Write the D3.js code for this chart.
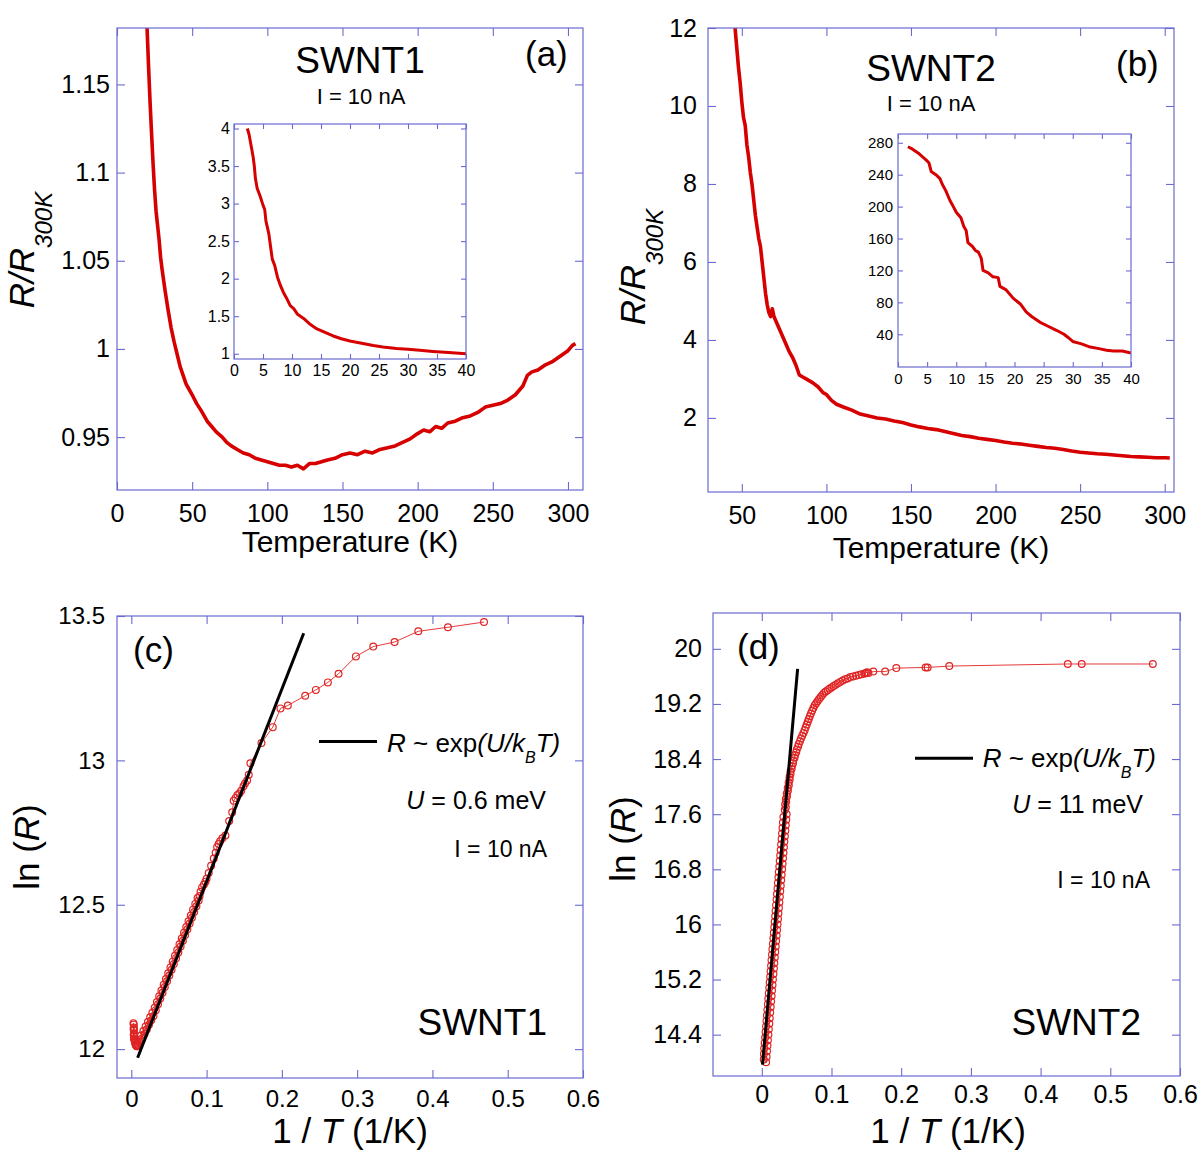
<!DOCTYPE html>
<html><head><meta charset="utf-8">
<script src="https://cdn.jsdelivr.net/npm/d3@7"></script>
<style>
body{margin:0;background:#fff;}
svg text{font-family:"Liberation Sans",Arial,Helvetica,sans-serif;fill:#000;}
</style></head><body>
<svg id="fig" width="1200" height="1160"></svg>
<script>
// ---------- DATA ----------
// (a) SWNT1: temperature (K) vs R/R300K
const aTemp = [20,21,22,23,24,25,26,27,28,29,30,32,34,36,38,40,42,44,46,48,50,53,56,58,60,63,66,70,73,76,80,84,88,92,96,100,104,108,112,116,120,124,128,132,136,140,145,150,155,160,165,170,175,180,185,190,195,200,204,208,212,216,220,225,230,235,240,245,250,255,260,265,270,273,276,280,285,290,295,300,303,305];
const aRatio = [1.182,1.16,1.14,1.122,1.105,1.09,1.078,1.07,1.062,1.052,1.045,1.033,1.022,1.012,1.004,0.997,0.99,0.985,0.98,0.977,0.974,0.969,0.965,0.962,0.959,0.956,0.953,0.95,0.947,0.945,0.943,0.941,0.94,0.938,0.937,0.936,0.935,0.934,0.934,0.933,0.934,0.932,0.935,0.935,0.936,0.937,0.938,0.940,0.941,0.940,0.942,0.941,0.943,0.944,0.945,0.947,0.949,0.952,0.954,0.953,0.956,0.955,0.958,0.959,0.961,0.962,0.964,0.967,0.968,0.969,0.971,0.974,0.979,0.985,0.987,0.988,0.991,0.993,0.996,0.999,1.002,1.003];
// (a) inset
const aInTemp = [2.3,2.6,3.0,3.3,3.5,3.7,4.0,4.5,5.0,5.3,5.5,6.0,6.6,7.0,7.5,8.0,8.5,9.0,9.7,10.3,10.9,12,13,14.3,15.5,17,18.5,20,22,24,25.7,28,30,32,34.3,37,40];
const aInRatio = [4.0,3.92,3.75,3.62,3.5,3.33,3.2,3.1,2.98,2.92,2.77,2.6,2.26,2.18,2.02,1.91,1.82,1.75,1.64,1.6,1.53,1.47,1.40,1.33,1.29,1.24,1.2,1.17,1.14,1.11,1.09,1.07,1.06,1.045,1.03,1.015,1.0];
// (b) SWNT2
const bTemp = [46,47,48,49,50,51,52,53,54,55,56,57,58,59,60,61,62,63,64,65,66,67,68,69,70,72,74,76,78,80,82,84,86,88,90,92,95,98,100,103,106,110,115,120,125,130,135,140,145,150,155,160,165,170,175,180,185,190,195,200,205,210,215,220,225,230,235,240,245,250,255,260,265,270,275,280,285,290,295,300,303];
const bRatio = [12.0,11.5,11.0,10.6,10.1,9.7,9.5,9.0,8.7,8.3,8.0,7.6,7.2,6.9,6.6,6.4,6.0,5.6,5.2,4.9,4.7,4.6,4.8,4.6,4.5,4.3,4.1,3.9,3.7,3.55,3.35,3.1,3.05,3.0,2.95,2.9,2.8,2.65,2.6,2.45,2.35,2.28,2.2,2.1,2.05,2.0,1.97,1.92,1.88,1.82,1.77,1.73,1.7,1.65,1.6,1.55,1.52,1.48,1.45,1.42,1.38,1.35,1.33,1.3,1.27,1.24,1.22,1.19,1.15,1.12,1.1,1.08,1.07,1.05,1.03,1.01,1.0,0.99,0.98,0.98,0.97];
// (b) inset
const bInTemp = [1.7,2.5,3.5,4.9,5.3,5.7,6.5,7.2,7.6,8.2,8.9,9.5,10,10.8,11.3,11.7,12,12.8,13.3,13.8,14.3,14.6,15.5,16.3,17.2,17.5,18.5,19.8,21,22,23,24.4,25.5,27.2,28.5,29.2,30,31.5,33,34.5,35.8,37,38.5,40];
const bInRatio = [275,272,267,258,255,244,240,235,228,220,208,200,193,186,175,170,155,150,145,143,135,120,117,112,111,100,96,85,78,68,62,55,51,45,40,36,31,28,24,22,20,19,19,16.6];
// (c) SWNT1: [1/T, ln R]
const cPoints = [[0.0028,12.09],[0.0030,12.07],[0.0033,12.085],[0.0032,12.05],[0.0034,12.075],[0.0035,12.065],[0.0036,12.035],[0.0037,12.055],[0.0039,12.045],[0.0041,12.038],[0.0044,12.032],[0.0047,12.027],[0.0051,12.022],[0.0055,12.018],[0.0060,12.014],[0.0066,12.012],[0.0072,12.010],[0.0079,12.010],[0.0087,12.011],[0.0093,12.013],
[0.0100,12.031],[0.0115,12.021],[0.0130,12.047],[0.0145,12.037],[0.0160,12.063],[0.0175,12.052],[0.0190,12.078],[0.0205,12.068],[0.0220,12.094],[0.0235,12.084],[0.0250,12.110],[0.0265,12.100],[0.0280,12.126],[0.0295,12.115],[0.0310,12.143],[0.0325,12.135],[0.0340,12.163],[0.0355,12.155],[0.0370,12.183],[0.0385,12.175],[0.0400,12.203],[0.0415,12.195],[0.0430,12.223],[0.0445,12.215],[0.0460,12.243],[0.0475,12.235],[0.0490,12.263],[0.0505,12.255],[0.0520,12.283],[0.0535,12.275],[0.0550,12.303],[0.0565,12.295],[0.0580,12.323],[0.0595,12.315],[0.0610,12.343],[0.0625,12.335],[0.0640,12.363],[0.0655,12.355],[0.0670,12.383],[0.0685,12.375],[0.0700,12.403],[0.0715,12.395],[0.0730,12.423],[0.0745,12.415],[0.0760,12.443],[0.0775,12.435],[0.0790,12.463],[0.0805,12.455],[0.0820,12.483],[0.0835,12.475],[0.0850,12.503],[0.0865,12.495],[0.0880,12.523],[0.0895,12.515],
[0.0907,12.53],[0.092,12.545],[0.094,12.56],[0.0965,12.57],[0.0985,12.58],[0.100,12.59],[0.1028,12.61],[0.106,12.635],[0.1095,12.66],[0.112,12.68],[0.114,12.70],[0.116,12.71],[0.118,12.72],[0.121,12.73],[0.125,12.74],[0.130,12.79],[0.134,12.82],[0.136,12.86],[0.1385,12.87],[0.141,12.88],[0.1435,12.885],[0.146,12.895],[0.149,12.91],[0.151,12.92],[0.1538,12.93],[0.156,12.95],[0.1582,12.99],[0.1729,13.06],[0.1879,13.115],[0.1981,13.18],[0.2079,13.19],[0.231,13.224],[0.2451,13.244],[0.2611,13.27],[0.2753,13.30],[0.2983,13.36],[0.3214,13.394],[0.3497,13.41],[0.3812,13.447],[0.4206,13.461],[0.4685,13.479]];
const cFit = [[0.0084,11.97],[0.229,13.44]];
// (d) SWNT2: [1/T, ln R]
const dPoints = [[0.0062,14.00],[0.0028,14.04],[0.0069,14.08],[0.0030,14.12],[0.0075,14.16],[0.0034,14.20],[0.0082,14.24],[0.0041,14.28],[0.0088,14.32],[0.0048,14.36],[0.0095,14.40],[0.0054,14.44],[0.0101,14.48],[0.0061,14.52],[0.0108,14.56],[0.0067,14.60],[0.0114,14.64],[0.0074,14.68],[0.0121,14.72],[0.0080,14.76],[0.0128,14.80],[0.0087,14.84],[0.0134,14.88],[0.0093,14.92],[0.0141,14.96],[0.0100,15.00],[0.0147,15.04],[0.0107,15.08],[0.0154,15.12],[0.0113,15.16],[0.0160,15.20],[0.0120,15.24],[0.0167,15.28],[0.0126,15.32],[0.0174,15.36],[0.0133,15.40],[0.0180,15.44],[0.0139,15.48],[0.0187,15.52],[0.0146,15.56],[0.0193,15.60],[0.0152,15.64],[0.0200,15.68],[0.0159,15.72],[0.0206,15.76],[0.0166,15.80],[0.0213,15.84],[0.0172,15.88],[0.0219,15.92],[0.0179,15.96],[0.0226,16.00],[0.0185,16.04],[0.0233,16.08],[0.0192,16.12],[0.0239,16.16],[0.0198,16.20],[0.0246,16.24],[0.0205,16.28],[0.0252,16.32],[0.0212,16.36],[0.0259,16.40],[0.0218,16.44],[0.0265,16.48],[0.0225,16.52],[0.0272,16.56],[0.0231,16.60],[0.0278,16.64],[0.0238,16.68],[0.0285,16.72],[0.0244,16.76],[0.0292,16.80],[0.0251,16.84],[0.0298,16.88],[0.0257,16.92],[0.0305,16.96],[0.0264,17.00],[0.0311,17.04],[0.0271,17.08],[0.0318,17.12],[0.0277,17.16],[0.0324,17.20],[0.0284,17.24],[0.0331,17.28],[0.0290,17.32],[0.0338,17.36],[0.0297,17.40],[0.0344,17.44],[0.0303,17.48],[0.0351,17.52],[0.0310,17.56],[0.0357,17.60],
[0.0330,17.66],[0.0345,17.70],[0.0335,17.74],[0.0350,17.78],[0.0345,17.82],[0.0362,17.86],[0.0358,17.90],[0.0375,17.94],[0.0372,17.98],[0.0388,18.02],[0.0385,18.06],[0.0400,18.10],[0.0398,18.14],[0.0412,18.18],[0.0412,18.22],[0.0428,18.26],[0.0432,18.30],[0.0448,18.34],[0.0452,18.38],[0.0470,18.42],[0.0476,18.46],[0.0494,18.50],[0.0502,18.54],[0.0520,18.58],[0.0530,18.62],[0.0548,18.66],[0.0562,18.70],[0.0580,18.74],[0.0598,18.78],[0.0615,18.82],[0.0630,18.86],[0.0645,18.90],[0.0660,18.94],[0.0675,18.98],[0.0690,19.02],[0.0705,19.06],[0.0722,19.10],[0.0740,19.14],[0.0760,19.18],[0.0780,19.21],[0.0800,19.24],[0.0822,19.27],[0.0845,19.30],[0.0868,19.33],[0.0892,19.36],[0.0918,19.38],[0.0945,19.40],[0.0972,19.42],[0.1000,19.44],[0.1030,19.46],[0.1060,19.48],[0.1092,19.50],[0.1125,19.52],[0.1160,19.54],[0.1195,19.56],[0.1232,19.57],[0.1270,19.59],[0.1310,19.60],[0.1350,19.61],[0.1390,19.62],[0.1430,19.63],[0.1470,19.64],[0.1490,19.65],[0.1510,19.66],[0.1530,19.65],[0.1600,19.67],[0.1770,19.67],[0.1930,19.72],[0.2350,19.73],[0.2380,19.73],[0.2690,19.75],[0.4390,19.78],[0.4590,19.78],[0.5610,19.78]];
const dFit = [[0.001,13.965],[0.0514,19.71]];

// tick values and labels
const aXTicks = [0,50,100,150,200,250,300], aXLabels = ["0","50","100","150","200","250","300"];
const aYTicks = [0.95,1,1.05,1.1,1.15], aYLabels = ["0.95","1","1.05","1.1","1.15"];
const aInXTicks = [0,5,10,15,20,25,30,35,40], aInXLabels = ["0","5","10","15","20","25","30","35","40"];
const aInYTicks = [1,1.5,2,2.5,3,3.5,4], aInYLabels = ["1","1.5","2","2.5","3","3.5","4"];
const bXTicks = [50,100,150,200,250,300], bXLabels = ["50","100","150","200","250","300"];
const bYTicks = [2,4,6,8,10,12], bYLabels = ["2","4","6","8","10","12"];
const bInXTicks = [0,5,10,15,20,25,30,35,40], bInXLabels = ["0","5","10","15","20","25","30","35","40"];
const bInYTicks = [40,80,120,160,200,240,280], bInYLabels = ["40","80","120","160","200","240","280"];
const cXTicks = [0,0.1,0.2,0.3,0.4,0.5,0.6], cXLabels = ["0","0.1","0.2","0.3","0.4","0.5","0.6"];
const cYTicks = [12,12.5,13,13.5], cYLabels = ["12","12.5","13","13.5"];
const dXTicks = [0,0.1,0.2,0.3,0.4,0.5,0.6], dXLabels = ["0","0.1","0.2","0.3","0.4","0.5","0.6"];
const dYTicks = [14.4,15.2,16,16.8,17.6,18.4,19.2,20], dYLabels = ["14.4","15.2","16","16.8","17.6","18.4","19.2","20"];

// ---------- DRAWING ----------
const FRAME = "#6a6ad2", RED = "#d60000", CIRC = "#e02424";
const svg = d3.select("#fig");
let clipId = 0;

function panel(c) {
  const g = svg.append("g");
  const x = d3.scaleLinear().domain(c.xdom).range([c.x0, c.x1]);
  const y = d3.scaleLinear().domain(c.ydom).range([c.y1, c.y0]);
  g.append("rect").attr("x", c.x0).attr("y", c.y0).attr("width", c.x1 - c.x0).attr("height", c.y1 - c.y0)
    .attr("fill", "#fff");
  const t = c.tick, fs = c.fs;
  const axes = [
    [d3.axisBottom(x).tickValues(c.xticks).tickFormat((d, i) => c.xlabels[i]).tickSize(-t).tickPadding(c.padX), `translate(0,${c.y1})`],
    [d3.axisTop(x).tickValues(c.xticks).tickFormat("").tickSize(-t), `translate(0,${c.y0})`],
    [d3.axisLeft(y).tickValues(c.yticks).tickFormat((d, i) => c.ylabels[i]).tickSize(-t).tickPadding(c.padY), `translate(${c.x0},0)`],
    [d3.axisRight(y).tickValues(c.yticks).tickFormat("").tickSize(-t), `translate(${c.x1},0)`]
  ];
  axes.forEach(([ax, tr]) => {
    const a = g.append("g").attr("transform", tr).call(ax);
    a.attr("font-family", null).attr("font-size", null);
    a.select(".domain").remove();
    a.selectAll(".tick line").attr("stroke", FRAME).attr("stroke-width", 1.1);
    a.selectAll(".tick text").style("font-size", fs + "px").attr("fill", "#000");
  });
  const id = "clip" + (clipId++);
  svg.append("clipPath").attr("id", id).append("rect")
    .attr("x", c.x0).attr("y", c.y0).attr("width", c.x1 - c.x0).attr("height", c.y1 - c.y0);
  const plot = g.append("g").attr("clip-path", `url(#${id})`);
  g.append("rect").attr("x", c.x0).attr("y", c.y0).attr("width", c.x1 - c.x0).attr("height", c.y1 - c.y0)
    .attr("fill", "none").attr("stroke", FRAME).attr("stroke-width", 1.2);
  return {g, plot, x, y};
}

function curve(p, xs, ys, w) {
  const line = d3.line().x((d, i) => p.x(xs[i])).y((d, i) => p.y(ys[i]));
  p.plot.append("path").datum(xs).attr("d", line).attr("fill", "none")
    .attr("stroke", RED).attr("stroke-width", w).attr("stroke-linejoin", "round");
}

function scatter(p, pts, fit) {
  const line = d3.line().x(d => p.x(d[0])).y(d => p.y(d[1]));
  p.plot.append("path").datum(pts).attr("d", line).attr("fill", "none").attr("stroke", CIRC).attr("stroke-width", 0.9);
  p.plot.selectAll("circle.pt").data(pts).enter().append("circle").attr("class", "pt")
    .attr("cx", d => p.x(d[0])).attr("cy", d => p.y(d[1])).attr("r", 3.4)
    .attr("fill", "none").attr("stroke", CIRC).attr("stroke-width", 1.2);
  p.plot.append("path").datum(fit).attr("d", line).attr("fill", "none").attr("stroke", "#000").attr("stroke-width", 3);
}

function rich(parent, x, y, parts, opts = {}) {
  const t = parent.append("text").attr("x", x).attr("y", y);
  if (opts.anchor) t.attr("text-anchor", opts.anchor);
  if (opts.rotate) t.attr("transform", `rotate(-90,${x},${y})`);
  parts.forEach(pt => {
    const s = t.append("tspan").text(pt.t).style("font-size", pt.fs + "px");
    if (pt.it) s.style("font-style", "italic");
    if (pt.dy) s.attr("dy", pt.dy);
  });
  return t;
}

// ----- Panel (a) -----
const A = panel({x0:117, x1:583, y0:28, y1:490, xdom:[0,310], ydom:[0.92,1.182],
  xticks:aXTicks, xlabels:aXLabels, yticks:aYTicks, ylabels:aYLabels, tick:8, fs:25, padX:14, padY:7});
curve(A, aTemp, aRatio, 3.6);
rich(svg, 360, 72.5, [{t:"SWNT1", fs:37}], {anchor:"middle"});
rich(svg, 525, 66, [{t:"(a)", fs:35}]);
rich(svg, 361, 104, [{t:"I = 10 nA", fs:22}], {anchor:"middle"});
rich(svg, 350, 552, [{t:"Temperature (K)", fs:30}], {anchor:"middle"});
rich(svg, 34, 250, [{t:"R/R", fs:35, it:true}, {t:"300K", fs:24, it:true, dy:18}], {anchor:"middle", rotate:true});

const AI = panel({x0:234, x1:466, y0:124, y1:359, xdom:[0,40], ydom:[0.93,4.06],
  xticks:aInXTicks, xlabels:aInXLabels, yticks:aInYTicks, ylabels:aInYLabels, tick:5, fs:16, padX:6, padY:4});
curve(AI, aInTemp, aInRatio, 3);

// ----- Panel (b) -----
const B = panel({x0:708, x1:1174, y0:28, y1:492, xdom:[30,305.5], ydom:[0.1,12.0],
  xticks:bXTicks, xlabels:bXLabels, yticks:bYTicks, ylabels:bYLabels, tick:8, fs:25, padX:14, padY:11});
curve(B, bTemp, bRatio, 3.6);
rich(svg, 931, 80.5, [{t:"SWNT2", fs:37}], {anchor:"middle"});
rich(svg, 1116, 76, [{t:"(b)", fs:35}]);
rich(svg, 931, 111, [{t:"I = 10 nA", fs:22}], {anchor:"middle"});
rich(svg, 941, 558, [{t:"Temperature (K)", fs:30}], {anchor:"middle"});
rich(svg, 645, 267, [{t:"R/R", fs:35, it:true}, {t:"300K", fs:24, it:true, dy:18}], {anchor:"middle", rotate:true});

const BI = panel({x0:898, x1:1131, y0:134, y1:367, xdom:[0,40], ydom:[-1,291],
  xticks:bInXTicks, xlabels:bInXLabels, yticks:bInYTicks, ylabels:bInYLabels, tick:5, fs:15, padX:6, padY:5});
curve(BI, bInTemp, bInRatio, 3);

// ----- Panel (c) -----
const C = panel({x0:117, x1:583, y0:616, y1:1078, xdom:[-0.019,0.6], ydom:[11.9,13.5],
  xticks:cXTicks, xlabels:cXLabels, yticks:cYTicks, ylabels:cYLabels, tick:8, fs:24, padX:12, padY:12});
scatter(C, cPoints, cFit);
rich(svg, 133, 662, [{t:"(c)", fs:35}]);
svg.append("line").attr("x1", 319).attr("x2", 377).attr("y1", 741.5).attr("y2", 741.5).attr("stroke", "#000").attr("stroke-width", 3);
rich(svg, 387, 751.7, [{t:"R", fs:26, it:true}, {t:" ~ exp", fs:26}, {t:"(U/k", fs:26, it:true}, {t:"B", fs:16, it:true, dy:11}, {t:"T)", fs:26, it:true, dy:-11}]);
rich(svg, 546, 809, [{t:"U", fs:25, it:true}, {t:" = 0.6 meV", fs:25}], {anchor:"end"});
rich(svg, 547, 856.7, [{t:"I = 10 nA", fs:23}], {anchor:"end"});
rich(svg, 547, 1035.4, [{t:"SWNT1", fs:37}], {anchor:"end"});
rich(svg, 350, 1143, [{t:"1 / ", fs:35}, {t:"T", fs:35, it:true}, {t:" (1/K)", fs:35}], {anchor:"middle"});
rich(svg, 38.5, 847, [{t:"ln (", fs:35}, {t:"R", fs:35, it:true}, {t:")", fs:35}], {anchor:"middle", rotate:true});

// ----- Panel (d) -----
const D = panel({x0:713, x1:1180, y0:613, y1:1076, xdom:[-0.07,0.6], ydom:[13.8,20.52],
  xticks:dXTicks, xlabels:dXLabels, yticks:dYTicks, ylabels:dYLabels, tick:8, fs:25, padX:9.5, padY:11});
scatter(D, dPoints, dFit);
rich(svg, 737, 659, [{t:"(d)", fs:35}]);
svg.append("line").attr("x1", 915).attr("x2", 973).attr("y1", 758.3).attr("y2", 758.3).attr("stroke", "#000").attr("stroke-width", 3);
rich(svg, 982.7, 766.7, [{t:"R", fs:26, it:true}, {t:" ~ exp", fs:26}, {t:"(U/k", fs:26, it:true}, {t:"B", fs:16, it:true, dy:11}, {t:"T)", fs:26, it:true, dy:-11}]);
rich(svg, 1143, 813.3, [{t:"U", fs:25, it:true}, {t:" = 11 meV", fs:25}], {anchor:"end"});
rich(svg, 1150, 888, [{t:"I = 10 nA", fs:23}], {anchor:"end"});
rich(svg, 1141, 1035, [{t:"SWNT2", fs:37}], {anchor:"end"});
rich(svg, 948, 1143, [{t:"1 / ", fs:35}, {t:"T", fs:35, it:true}, {t:" (1/K)", fs:35}], {anchor:"middle"});
rich(svg, 634.5, 839, [{t:"ln (", fs:35}, {t:"R", fs:35, it:true}, {t:")", fs:35}], {anchor:"middle", rotate:true});
</script>
</body></html>
